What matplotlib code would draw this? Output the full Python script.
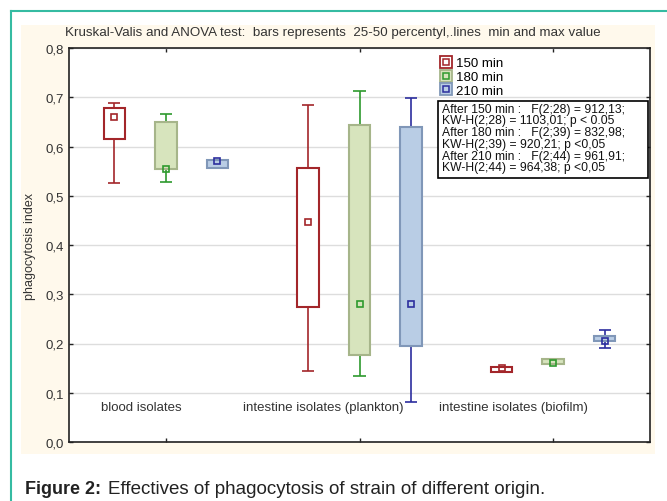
import matplotlib
matplotlib.use('Agg')
import matplotlib.pyplot as plt
from matplotlib.lines import Line2D
from matplotlib.patches import Rectangle
from matplotlib.legend_handler import HandlerTuple

plt.rcParams['font.family'] = ['Liberation Sans', 'DejaVu Sans']

groups = ['blood isolates', 'intestine isolates (plankton)', 'intestine isolates (biofilm)']
series = ['150 min', '180 min', '210 min']

# rows: 150, 180, 210 min ; columns: blood, plankton, biofilm
box_low = [[0.615, 0.275, 0.142],
           [0.554, 0.177, 0.158],
           [0.556, 0.194, 0.206]]
box_high = [[0.678, 0.556, 0.152],
            [0.650, 0.644, 0.169],
            [0.573, 0.639, 0.216]]
mid = [[0.659, 0.447, 0.150],
       [0.555, 0.281, 0.160],
       [0.571, 0.281, 0.205]]
vmin = [[0.525, 0.144, 0.142],
        [0.527, 0.135, 0.158],
        [0.556, 0.082, 0.191]]
vmax = [[0.689, 0.685, 0.152],
        [0.665, 0.712, 0.169],
        [0.573, 0.698, 0.227]]

stats_text = ('After 150 min :   F(2;28) = 912,13;\n'
              'KW-H(2;28) = 1103,01; p < 0.05\n'
              'After 180 min :   F(2;39) = 832,98;\n'
              'KW-H(2;39) = 920,21; p <0,05\n'
              'After 210 min :   F(2;44) = 961,91;\n'
              'KW-H(2;44) = 964,38; p <0,05')

face = ['white', '#D7E4BD', '#B9CDE5']
edge = ['#A3262A', '#A6B58A', '#8097B8']
line_c = ['#A3262A', '#2E9A2E', '#2C2E9E']
offsets = [-0.266, 0.0, 0.266]
bw = 0.111
cap = 0.031

fig = plt.figure(figsize=(6.67, 5.02), dpi=100)
fig.patch.set_facecolor('white')
fig.patches.append(Rectangle((21/667, 47/502), 634/667, 429/502, transform=fig.transFigure,
                             facecolor='#FFF9EC', edgecolor='none', zorder=-5))
fig.lines.append(Line2D([10.5/667, 10.5/667], [0, 490/502], transform=fig.transFigure,
                        color='#35BBA2', lw=1.5, zorder=-4))
fig.lines.append(Line2D([10.5/667, 1], [490/502, 490/502], transform=fig.transFigure,
                        color='#35BBA2', lw=1.5, zorder=-4))

ax = fig.add_axes([69/667, 59/502, 581/667, 394/502])
ax.set_facecolor('white')
ax.set_axisbelow(True)
ax.set_xlim(-0.5, 2.5)
ax.set_ylim(0, 0.8)
ax.set_yticks([0, 0.1, 0.2, 0.3, 0.4, 0.5, 0.6, 0.7, 0.8])
ax.set_yticklabels(['0,0', '0,1', '0,2', '0,3', '0,4', '0,5', '0,6', '0,7', '0,8'],
                   fontsize=9.5, color='#333333')
ax.set_xticks([0, 1, 2])
ax.set_xticklabels([])
ax.tick_params(direction='in', length=3, top=True, right=True, color='#222222', width=1)
ax.grid(axis='y', color='#DDDDDD', lw=1)
for s in ax.spines.values():
    s.set_color('#222222')
    s.set_linewidth(1.2)

for j in range(3):
    for i in range(3):
        x = i + offsets[j]
        lo, hi = box_low[j][i], box_high[j][i]
        if vmax[j][i] > hi:
            ax.vlines(x, hi, vmax[j][i], color=line_c[j], lw=1.2, zorder=2)
            ax.hlines(vmax[j][i], x - cap, x + cap, color=line_c[j], lw=1.2, zorder=2)
        if vmin[j][i] < lo:
            ax.vlines(x, vmin[j][i], lo, color=line_c[j], lw=1.2, zorder=2)
            ax.hlines(vmin[j][i], x - cap, x + cap, color=line_c[j], lw=1.2, zorder=2)
        ax.bar(x, hi - lo, bottom=lo, width=bw, facecolor=face[j], edgecolor=edge[j],
               lw=1.5, zorder=3)
        ax.plot(x, mid[j][i], 's', ms=5, mfc='none', mec=line_c[j], mew=1.2, zorder=4)

label_x = [-0.129, 0.814, 1.794]
for i, g in enumerate(groups):
    ax.text(label_x[i], 0.072, g, ha='center', va='center', fontsize=9.5, color='#333333')

handles = []
for j in range(3):
    big = Line2D([], [], ls='none', marker='s', ms=8.5, mfc=face[j], mec=edge[j] if j else line_c[j], mew=1.3)
    small = Line2D([], [], ls='none', marker='s', ms=4, mfc='none', mec=line_c[j], mew=1.1)
    handles.append((big, small))
ax.legend(handles, series, handler_map={tuple: HandlerTuple(ndivide=1)},
          loc='upper left', bbox_to_anchor=(0.636, 0.980), frameon=False,
          fontsize=9.5, handlelength=0.9, handletextpad=0.35, labelspacing=0.12,
          borderaxespad=0, borderpad=0.1)

ax.add_patch(Rectangle((0.6346, 0.6700), 0.362, 0.1955, transform=ax.transAxes,
                       facecolor='white', edgecolor='black', lw=1.2, zorder=5))
ax.text(0.642, 0.861, stats_text, transform=ax.transAxes, ha='left', va='top',
        fontsize=8.7, linespacing=0.97, color='#111111', zorder=6)

ax.set_ylabel('phagocytosis index', fontsize=9, color='#333333')
ax.yaxis.set_label_coords(-0.056, 0.5)

fig.text(333/667, 1 - 33/502,
         'Kruskal-Valis and ANOVA test:  bars represents  25-50 percentyl,.lines  min and max value',
         ha='center', va='center', fontsize=9.6, color='#333333')

fig.text(25/667, 1 - 490/502, 'Figure 2:', ha='left', va='center', fontsize=13,
         fontweight='bold', color='#222222')
fig.text(108/667, 1 - 490/502, 'Effectives of phagocytosis of strain of different origin.',
         ha='left', va='center', fontsize=13.5, color='#222222')

fig.savefig('out.png', dpi=100)
